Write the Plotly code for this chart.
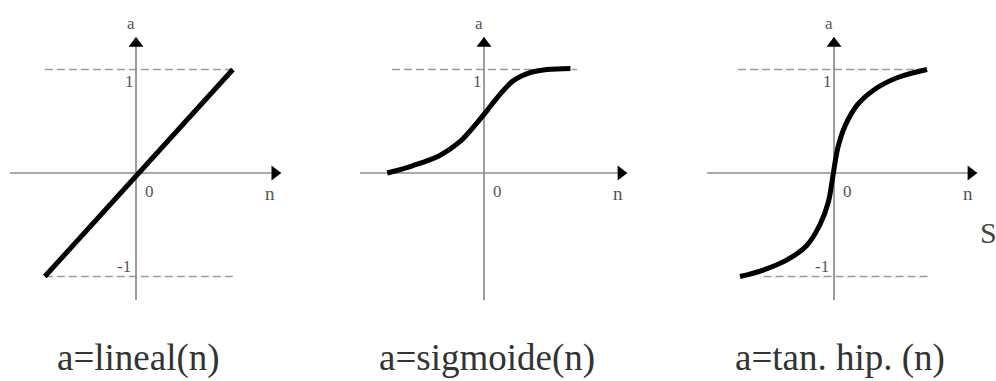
import plotly.graph_objects as go

# ---------------- data ----------------
lin_n = [-0.97, 1.03]
lin_a = [-1.0, 1.0]

sig_n = [-1.03, -0.76, -0.47, -0.26, -0.07, 0.03, 0.17, 0.31, 0.49, 0.67, 0.92]
sig_a = [0.00, 0.07, 0.17, 0.30, 0.49, 0.60, 0.76, 0.89, 0.97, 1.00, 1.01]

tanh_n = [-1.00, -0.76, -0.50, -0.29, -0.15, -0.06, -0.01, 0.04, 0.12, 0.25, 0.42, 0.67, 0.99]
tanh_a = [-1.00, -0.94, -0.84, -0.70, -0.50, -0.28, -0.02, 0.24, 0.46, 0.66, 0.80, 0.92, 1.00]

titles = ["a=lineal(n)", "a=sigmoide(n)", "a=tan. hip. (n)"]
axis_labels = ["a", "n"]
tick_labels = ["1", "0", "-1"]

# ---------------- layout constants ----------------
W, H = 996, 381
SX, SY = 94.0, 103.5      # pixels per unit (n, a)
OY = 173                  # pixel row of a = 0
SERIF = "Liberation Serif, Times New Roman, serif"
AX_COL = "#8c8c8c"
DASH_COL = "#9a9a9a"
LBL_COL = "#555555"

panels = [
    dict(ox=136, n=lin_n, a=lin_a, spline=False, h=(-1.34, 1.54),
         dashed=[(1.0, -0.97, 1.03), (-1.0, -0.97, 1.03)], neg=True, title_x=138),
    dict(ox=484, n=sig_n, a=sig_a, spline=True, h=(-1.32, 1.52),
         dashed=[(1.0, -0.98, 0.99)], neg=False, title_x=487),
    dict(ox=834, n=tanh_n, a=tanh_a, spline=True, h=(-1.35, 1.52),
         dashed=[(1.0, -1.02, 1.0), (-1.0, -0.75, 1.0)], neg=True, title_x=840),
]
V_EXT = (-1.23, 1.31)

fig = go.Figure()
layout = dict(width=W, height=H, margin=dict(l=0, r=0, t=0, b=0),
              paper_bgcolor="white", plot_bgcolor="white", showlegend=False,
              hovermode=False)
annotations = []

for i, p in enumerate(panels):
    k = "" if i == 0 else str(i + 1)
    xr, yr = "x" + k, "y" + k
    left = max(0, p["ox"] - 136)
    right = min(W, p["ox"] + 164)
    layout["xaxis" + k] = dict(domain=[left / W, right / W],
                               range=[(left - p["ox"]) / SX, (right - p["ox"]) / SX],
                               visible=False, fixedrange=True)
    layout["yaxis" + k] = dict(domain=[0, 1], range=[(OY - H) / SY, OY / SY],
                               visible=False, fixedrange=True)

    # dashed guide lines
    for (lev, a0, a1) in p["dashed"]:
        fig.add_trace(go.Scatter(x=[a0, a1], y=[lev, lev], mode="lines", xaxis=xr, yaxis=yr,
                                 line=dict(color=DASH_COL, width=1.6, dash="8px,4px")))
    # axes
    fig.add_trace(go.Scatter(x=list(p["h"]), y=[0, 0], mode="lines", xaxis=xr, yaxis=yr,
                             line=dict(color=AX_COL, width=1.7)))
    fig.add_trace(go.Scatter(x=[0, 0], y=list(V_EXT), mode="lines", xaxis=xr, yaxis=yr,
                             line=dict(color=AX_COL, width=1.7)))
    # arrow heads
    fig.add_trace(go.Scatter(x=[p["h"][1] - 6 / SX], y=[0], mode="markers", xaxis=xr, yaxis=yr,
                             marker=dict(symbol="triangle-right", size=13, color="black")))
    fig.add_trace(go.Scatter(x=[0], y=[V_EXT[1] - 6 / SY], mode="markers", xaxis=xr, yaxis=yr,
                             marker=dict(symbol="triangle-up", size=13, color="black")))
    # curve
    fig.add_trace(go.Scatter(x=p["n"], y=p["a"], mode="lines", xaxis=xr, yaxis=yr,
                             line=dict(color="black", width=5,
                                       shape="spline" if p["spline"] else "linear",
                                       smoothing=1.0)))

    # small labels
    def lab(text, dx, dy, size=17):
        annotations.append(dict(text=text, x=dx / SX, y=-dy / SY, xref=xr, yref=yr,
                                showarrow=False, font=dict(family=SERIF, size=size, color=LBL_COL),
                                xanchor="center", yanchor="middle"))
    lab(axis_labels[0], -5, -150)
    lab(tick_labels[0], -7, -92)
    lab(tick_labels[1], 13, 18)
    lab(axis_labels[1], 134, 20, 19)
    if p["neg"]:
        lab(tick_labels[2], -12, 93)

    # bottom caption
    annotations.append(dict(text=titles[i], x=p["title_x"] / W, y=1 - 358 / H,
                            xref="paper", yref="paper", showarrow=False,
                            font=dict(family=SERIF, size=37, color="#333333"),
                            xanchor="center", yanchor="middle"))

annotations.append(dict(text="S", x=978 / W, y=1 - 233 / H, xref="paper", yref="paper",
                        showarrow=False, xanchor="left", yanchor="middle",
                        font=dict(family=SERIF, size=30, color="#444444")))

layout["annotations"] = annotations
fig.update_layout(**layout)
fig.write_html("out.html", config={"displayModeBar": False, "staticPlot": True},
               post_script="document.body.style.margin='0';document.body.style.overflow='hidden';")
